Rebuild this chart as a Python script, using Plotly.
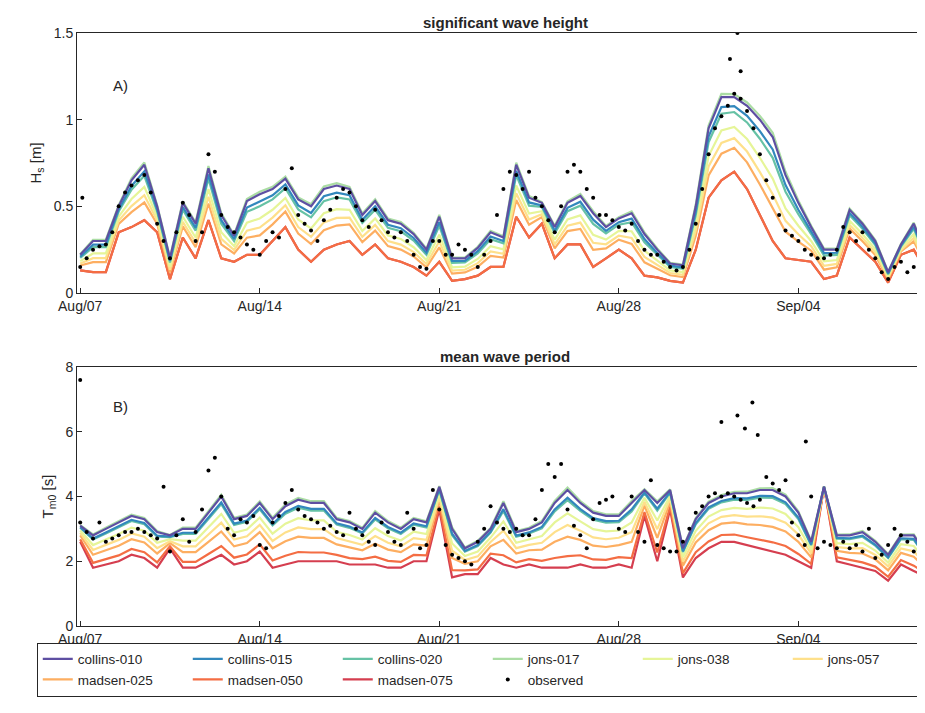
import plotly.graph_objects as go
import pandas as pd

# model time axis (12 h) and observation time axis (6 h), starting Aug 07 2017
t_model = pd.date_range("2017-08-07 00:00", periods=68, freq="12h")
t_obs = pd.date_range("2017-08-07 00:00", periods=134, freq="6h")

models = ["collins-010", "collins-015", "collins-020", "jons-017", "jons-038",
          "jons-057", "madsen-025", "madsen-050", "madsen-075"]
colors = ["#5e4fa2", "#3288bd", "#66c2a5", "#abdda4", "#e6f598",
          "#fee08b", "#fdae61", "#f46d43", "#d53e4f"]
# position of each model between the highest (collins-010) and lowest model curve
hs_weight = [0.0, 0.12, 0.2, -0.04, 0.4, 0.55, 0.68, 1.0, 1.0]
tm_weight = [0.0, 0.1, 0.13, -0.03, 0.3, 0.45, 0.6, 0.85, 1.0]

hs_high = [0.22,0.30,0.30,0.50,0.65,0.74,0.50,0.20,0.52,0.40,0.72,0.45,0.33,0.53,0.57,0.60,0.66,0.54,
           0.50,0.60,0.62,0.60,0.45,0.53,0.42,0.40,0.34,0.25,0.44,0.20,0.20,0.26,0.35,0.32,0.74,0.55,
           0.52,0.38,0.52,0.56,0.46,0.38,0.43,0.46,0.34,0.25,0.17,0.16,0.50,0.95,1.13,1.13,1.08,1.00,
           0.90,0.68,0.52,0.38,0.25,0.25,0.48,0.40,0.30,0.12,0.28,0.40,0.22,0.28]
hs_low = [0.13,0.12,0.12,0.35,0.38,0.42,0.35,0.08,0.32,0.20,0.42,0.20,0.18,0.22,0.22,0.30,0.38,0.25,
          0.18,0.25,0.28,0.30,0.22,0.28,0.20,0.18,0.15,0.10,0.18,0.07,0.08,0.10,0.15,0.15,0.44,0.32,
          0.40,0.20,0.28,0.28,0.15,0.20,0.25,0.20,0.10,0.09,0.07,0.06,0.25,0.55,0.65,0.70,0.60,0.45,
          0.30,0.20,0.19,0.18,0.08,0.10,0.32,0.25,0.18,0.06,0.22,0.25,0.12,0.18]
tm_high = [3.1,2.8,3.0,3.2,3.4,3.3,2.9,2.8,3.0,3.0,3.5,4.0,3.3,3.4,3.8,3.3,3.7,3.9,
           3.8,3.8,3.3,3.2,3.0,3.5,3.2,3.0,3.3,3.2,4.3,3.0,2.4,2.6,3.0,3.8,2.9,3.0,
           3.2,3.8,4.2,3.8,3.5,3.4,3.4,3.8,4.2,3.8,4.2,2.4,3.3,3.8,4.0,4.1,4.1,4.2,
           4.2,4.0,3.5,2.6,4.3,2.8,2.8,2.9,2.6,2.2,2.8,2.8,2.2,2.2]
tm_low = [2.6,1.8,1.9,2.0,2.2,2.1,1.8,2.4,1.8,1.8,2.0,2.2,1.9,2.0,2.3,1.8,1.9,2.0,
          2.0,2.0,2.0,1.9,1.9,1.9,1.8,1.8,2.0,2.0,3.6,1.5,1.6,1.6,2.1,1.9,1.8,1.9,
          1.8,1.8,1.8,1.9,1.8,1.8,1.9,1.8,3.4,2.0,3.6,1.5,2.1,2.4,2.6,2.6,2.5,2.4,
          2.3,2.2,2.0,1.8,4.3,2.0,1.9,1.8,1.7,1.4,1.9,1.7,1.5,1.4]

hs_obs = [0.15,0.2,0.25,0.27,0.28,0.35,0.5,0.58,0.62,0.65,0.68,0.58,0.4,0.3,0.2,0.35,0.52,0.45,0.3,0.35,
          0.8,0.7,0.45,0.38,0.35,0.32,0.28,0.25,0.22,0.3,0.35,0.32,0.6,0.72,0.45,0.4,0.36,0.3,0.42,0.48,
          0.55,0.6,0.58,0.5,0.42,0.38,0.48,0.42,0.35,0.32,0.35,0.3,0.22,0.15,0.14,0.3,0.3,0.22,0.22,0.28,
          0.25,0.22,0.15,0.22,0.3,0.45,0.6,0.7,0.68,0.6,0.7,0.55,0.5,0.42,0.35,0.5,0.7,0.74,0.7,0.6,
          0.55,0.45,0.45,0.42,0.38,0.36,0.4,0.3,0.25,0.22,0.22,0.18,0.15,0.13,0.15,0.25,0.4,0.6,0.8,0.95,
          1.02,1.08,1.15,1.12,1.05,0.95,0.8,0.65,0.55,0.45,0.36,0.33,0.3,0.25,0.22,0.2,0.2,0.22,0.25,0.38,
          0.35,0.3,0.35,0.25,0.2,0.12,0.08,0.15,0.18,0.12,0.15,0.08,0.15,0.2]
tm_obs = [3.2,2.9,2.7,3.2,2.6,2.7,2.8,2.9,2.9,3.0,2.9,2.8,2.7,4.3,2.3,2.8,3.3,2.6,2.9,3.6,
          4.8,5.2,4.0,3.0,2.8,3.3,3.2,3.4,2.5,2.4,3.2,3.4,3.8,4.2,3.6,3.4,3.3,3.2,3.0,3.1,
          2.9,2.8,3.5,3.0,2.8,2.6,2.5,3.2,2.9,2.6,2.5,3.5,3.0,2.4,2.5,4.2,3.6,2.5,2.2,2.1,
          2.0,1.9,2.6,3.0,3.7,3.2,3.0,2.9,3.0,2.8,2.8,3.3,4.2,5.0,4.6,5.0,3.6,3.1,2.8,2.4,
          3.3,3.8,3.9,4.0,3.0,2.9,4.0,2.9,2.6,4.5,2.5,2.4,2.3,2.3,2.6,3.0,3.5,3.7,4.0,4.1,
          4.0,4.1,4.0,3.9,3.8,3.7,3.9,4.6,4.4,4.2,4.5,3.2,2.8,2.5,4.0,2.4,2.6,2.5,2.4,2.6,
          2.4,2.5,2.3,3.0,2.1,2.2,2.5,3.0,2.8,2.6,2.3,2.2,3.0,2.5]
hs_out_t = ["2017-08-07 02:00", "2017-09-01 08:00", "2017-09-01 15:00", "2017-09-01 18:00"]
hs_out_v = [0.55, 1.35, 1.5, 1.28]
tm_out_t = ["2017-08-07 00:00", "2017-09-01 00:00", "2017-09-01 15:00", "2017-09-01 22:00",
            "2017-09-02 05:00", "2017-09-02 10:00", "2017-09-04 07:00", "2017-09-08 21:00", "2017-09-08 22:00"]
tm_out_v = [7.6, 6.3, 6.5, 6.1, 6.9, 5.9, 5.7, 7.1, 5.8]

fig = go.Figure()
order = [8, 7, 6, 5, 4, 3, 2, 1, 0]
for i in order:
    hs = [h + hs_weight[i] * (l - h) for h, l in zip(hs_high, hs_low)]
    tm = [h + tm_weight[i] * (l - h) for h, l in zip(tm_high, tm_low)]
    fig.add_trace(go.Scatter(x=t_model, y=hs, mode="lines", line=dict(color=colors[i], width=2.2),
                             name=models[i], legendrank=i, xaxis="x", yaxis="y"))
    fig.add_trace(go.Scatter(x=t_model, y=tm, mode="lines", line=dict(color=colors[i], width=2.2),
                             name=models[i], showlegend=False, xaxis="x2", yaxis="y2"))
fig.add_trace(go.Scatter(x=list(t_obs) + pd.to_datetime(hs_out_t).tolist(), y=hs_obs + hs_out_v,
                         mode="markers", marker=dict(color="black", size=4), name="observed",
                         legendrank=9, xaxis="x", yaxis="y"))
fig.add_trace(go.Scatter(x=list(t_obs) + pd.to_datetime(tm_out_t).tolist(), y=tm_obs + tm_out_v,
                         mode="markers", marker=dict(color="black", size=4), name="observed",
                         showlegend=False, xaxis="x2", yaxis="y2"))

xr = ["2017-08-06 21:00", "2017-09-09 06:00"]
tickv = ["2017-08-07", "2017-08-14", "2017-08-21", "2017-08-28", "2017-09-04"]
tickt = ["Aug/07", "Aug/14", "Aug/21", "Aug/28", "Sep/04"]
axcommon = dict(showgrid=False, zeroline=False, showline=True, linecolor="#262626", linewidth=1,
                mirror=True, ticks="inside", ticklen=5, tickcolor="#262626",
                tickfont=dict(size=14, color="#262626"))
fig.update_layout(
    width=925, height=713, paper_bgcolor="white", plot_bgcolor="white",
    font=dict(family="Liberation Sans, Arial", color="#262626"),
    margin=dict(l=69, r=0, t=25, b=95, autoexpand=False),
    xaxis=dict(range=xr, tickvals=tickv, ticktext=tickt, anchor="y", **axcommon),
    yaxis=dict(range=[0, 1.5], tickvals=[0, 0.5, 1, 1.5], ticktext=["0", "0.5", "1", "1.5"],
               domain=[0.5616, 1], anchor="x",
               title=dict(text="H<sub>s</sub> [m]", font=dict(size=15), standoff=8), **axcommon),
    xaxis2=dict(range=xr, tickvals=tickv, ticktext=tickt, anchor="y2", **axcommon),
    yaxis2=dict(range=[0, 8], tickvals=[0, 2, 4, 6, 8], domain=[0, 0.4368], anchor="x2",
                title=dict(text="T<sub>m0</sub> [s]", font=dict(size=15), standoff=8), **axcommon),
    legend=dict(orientation="h", x=-0.047, xanchor="left", y=-0.028, yanchor="top",
                entrywidth=105, traceorder="normal", font=dict(size=13.5, color="#262626"),
                bordercolor="#262626", borderwidth=1, itemwidth=30, tracegroupgap=0),
    showlegend=True,
    annotations=[
        dict(text="<b>significant wave height</b>", x=0.5, y=1.0, xref="paper", yref="paper",
             yanchor="bottom", showarrow=False, font=dict(size=15)),
        dict(text="<b>mean wave period</b>", x=0.5, y=0.4368, xref="paper", yref="paper",
             yanchor="bottom", showarrow=False, font=dict(size=15)),
        dict(text="A)", x=0.04, y=0.93, xref="paper", yref="paper", showarrow=False,
             xanchor="left", font=dict(size=15)),
        dict(text="B)", x=0.04, y=0.37, xref="paper", yref="paper", showarrow=False,
             xanchor="left", font=dict(size=15)),
    ],
)
fig.write_html("out.html")
